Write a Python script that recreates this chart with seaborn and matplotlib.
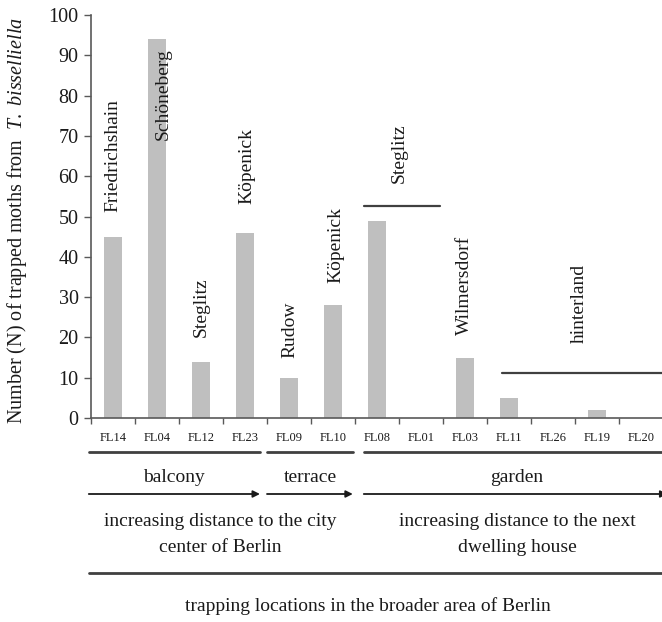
import matplotlib
matplotlib.use("Agg")
import matplotlib.pyplot as plt
import matplotlib.transforms as mtransforms
from matplotlib.lines import Line2D
from matplotlib.ticker import FixedLocator
import seaborn as sns
import pandas as pd

# ---- data ----
sites = ["FL14", "FL04", "FL12", "FL23", "FL09", "FL10", "FL08",
         "FL01", "FL03", "FL11", "FL26", "FL19", "FL20"]
moths = [45, 94, 14, 46, 10, 28, 49, 0, 15, 5, 0, 2, 0]
districts = ["Friedrichshain", "Schöneberg", "Steglitz", "Köpenick", "Rudow",
             "Köpenick", "Steglitz", "Wilmersdorf", "hinterland"]
district_x = [0.0, 1.14, 2.0, 3.05, 4.02, 5.07, 6.5, 7.98, 10.59]
district_y = [51, 69, 20, 53, 15, 33.5, 58.3, 20.6, 18.6]
groups = ["balcony", "terrace", "garden"]
group_start = [-0.55, 3.5, 5.7]
group_end = [3.34, 5.45, 12.5]

sns.set_theme(style="white")
plt.rcParams["font.family"] = ["Liberation Serif", "DejaVu Serif"]
plt.rcParams["mathtext.fontset"] = "custom"
plt.rcParams["mathtext.it"] = "Liberation Serif:italic"
plt.rcParams["mathtext.rm"] = "Liberation Serif"

W, H = 662, 622
fig = plt.figure(figsize=(W / 100, H / 100), dpi=100)
ax = fig.add_axes([91 / W, 1 - 418 / H, (663 - 91) / W, (418 - 15) / H])

df = pd.DataFrame({"site": sites, "moths": moths})
sns.barplot(data=df, x="site", y="moths", color="#bfbfbf", width=0.42,
            saturation=1, ax=ax)
for p in ax.patches:
    p.set_edgecolor("none")

txt = "#1a1a1a"
ax.set_xlim(-0.5, len(sites) - 0.5)
ax.set_ylim(0, 100)
ax.set_yticks(range(0, 101, 10))
ax.tick_params(axis="y", labelsize=14.5, colors="#595959", labelcolor=txt,
               length=5, width=1, direction="out", left=True, pad=4)
ax.tick_params(axis="x", which="major", length=0, labelsize=9,
               labelcolor=txt, pad=10)
ax.xaxis.set_minor_locator(FixedLocator([i + 0.5 for i in range(-1, len(sites))]))
ax.tick_params(axis="x", which="minor", length=4, width=1, color="#595959",
               direction="out", bottom=True)
sns.despine(ax=ax)
for s in ["left", "bottom"]:
    ax.spines[s].set_color("#595959")
    ax.spines[s].set_linewidth(1.2)

ax.set_xlabel("")
ax.set_ylabel(r"Number (N) of trapped moths from  $\mathit{T.\ bisselliella}$",
              fontsize=14.5, color=txt)
ax.yaxis.set_label_coords(-0.108, 0.49)

for name, x, y in zip(districts, district_x, district_y):
    ax.text(x, y, name, rotation=90, ha="center", va="bottom",
            fontsize=14, color=txt, clip_on=False)

ax.plot([5.7, 7.43], [52.6, 52.6], color="#404040", lw=1.6, clip_on=False)
ax.plot([8.84, 12.5], [11.2, 11.2], color="#404040", lw=1.6, clip_on=False)

# ---- annotations under the axis ----
tr = mtransforms.blended_transform_factory(ax.transData, fig.transFigure)
fy = lambda ypix: 1 - ypix / H

for g, s, e in zip(groups, group_start, group_end):
    fig.add_artist(Line2D([s, e], [fy(452), fy(452)], transform=tr,
                          color="#404040", lw=2))
    fig.text((s + e) / 2 if g != "garden" else 9.18, fy(477), g,
             transform=tr, ha="center", va="center", fontsize=14, color=txt)
    ax.annotate("", xy=(e + (0.1 if g == "garden" else 0), fy(494)),
                xycoords=tr, xytext=(s, fy(494)), textcoords=tr,
                arrowprops=dict(arrowstyle="-|>", color="#1a1a1a", lw=1.3,
                                mutation_scale=10, shrinkA=0, shrinkB=0),
                annotation_clip=False)

fig.text(2.43, fy(522), "increasing distance to the city", transform=tr,
         ha="center", va="center", fontsize=14, color=txt)
fig.text(2.43, fy(548), "center of Berlin", transform=tr,
         ha="center", va="center", fontsize=14, color=txt)
fig.text(9.18, fy(522), "increasing distance to the next", transform=tr,
         ha="center", va="center", fontsize=14, color=txt)
fig.text(9.18, fy(548), "dwelling house", transform=tr,
         ha="center", va="center", fontsize=14, color=txt)
fig.add_artist(Line2D([-0.55, 12.5], [fy(573), fy(573)], transform=tr,
                      color="#404040", lw=2))
fig.text(5.8, fy(606), "trapping locations in the broader area of Berlin",
         transform=tr, ha="center", va="center", fontsize=14, color=txt)

fig.savefig("out.png", dpi=100)
